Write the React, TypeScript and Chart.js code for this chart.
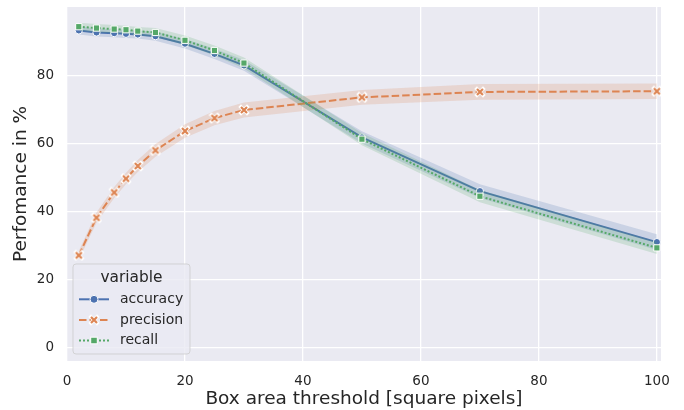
import React, { useEffect, useRef } from 'react';
import { Chart, registerables } from 'chart.js';

Chart.register(...registerables);

// ---- data ----
const xValues = [2, 5, 8, 10, 12, 15, 20, 25, 30, 50, 70, 100];
const accuracy = [93.3, 92.7, 92.5, 92.3, 92.1, 91.6, 89.4, 86.4, 83.0, 61.8, 46.0, 31.0];
const precision = [27.1, 38.2, 45.6, 49.7, 53.4, 58.0, 63.7, 67.5, 69.9, 73.6, 75.2, 75.4];
const recall = [94.4, 94.0, 93.7, 93.5, 93.1, 92.7, 90.4, 87.4, 83.7, 61.3, 44.5, 29.3];
// half widths of the confidence bands
const accuracyCI = [1.2, 1.2, 1.2, 1.2, 1.2, 1.3, 1.4, 1.5, 1.6, 1.8, 2.0, 2.3];
const precisionCI = [1.3, 1.5, 1.6, 1.7, 1.8, 1.9, 2.0, 2.1, 2.2, 2.2, 2.3, 2.3];
const recallCI = [1.2, 1.2, 1.2, 1.2, 1.2, 1.3, 1.4, 1.5, 1.6, 1.8, 1.8, 1.8];

const xTicks = [0, 20, 40, 60, 80, 100];
const yTicks = [0, 20, 40, 60, 80];
const seriesNames = ['accuracy', 'precision', 'recall'];
const legendTitle = 'variable';
const xTitle = 'Box area threshold [square pixels]';
const yTitle = 'Perfomance in %';

const FONT = "'DejaVu Sans', sans-serif";
const BLUE = '#4c72b0';
const ORANGE = '#dd8452';
const GREEN = '#55a868';
const TEXT = '#262626';
const BG = '#eaeaf2';

function rgba(hex: string, a: number) {
  const n = parseInt(hex.slice(1), 16);
  return `rgba(${(n >> 16) & 255},${(n >> 8) & 255},${n & 255},${a})`;
}

function makeXMarker(color: string) {
  const c = document.createElement('canvas');
  c.width = 12;
  c.height = 12;
  const g = c.getContext('2d')!;
  const m = 6;
  const draw = (r: number, lw: number, col: string, cap: CanvasLineCap) => {
    g.strokeStyle = col;
    g.lineWidth = lw;
    g.lineCap = cap;
    g.beginPath();
    g.moveTo(m - r, m - r);
    g.lineTo(m + r, m + r);
    g.moveTo(m - r, m + r);
    g.lineTo(m + r, m - r);
    g.stroke();
  };
  draw(3.0, 3.8, '#ffffff', 'square');
  draw(3.0, 2.2, color, 'butt');
  return c;
}

const bgPlugin = {
  id: 'plotBg',
  beforeDraw(chart: any) {
    const { ctx, chartArea } = chart;
    ctx.save();
    ctx.fillStyle = BG;
    ctx.fillRect(chartArea.left, chartArea.top, chartArea.right - chartArea.left, chartArea.bottom - chartArea.top);
    ctx.restore();
  },
};

function makeLegendPlugin(xMarker: HTMLCanvasElement) {
  return {
    id: 'customLegend',
    afterDraw(chart: any) {
      const { ctx, chartArea } = chart;
      const x0 = chartArea.left + 6;
      const w = 117;
      const h = 90;
      const y0 = chartArea.bottom - 7 - h;
      ctx.save();
      const r = 3;
      ctx.beginPath();
      ctx.moveTo(x0 + r, y0);
      ctx.lineTo(x0 + w - r, y0);
      ctx.quadraticCurveTo(x0 + w, y0, x0 + w, y0 + r);
      ctx.lineTo(x0 + w, y0 + h - r);
      ctx.quadraticCurveTo(x0 + w, y0 + h, x0 + w - r, y0 + h);
      ctx.lineTo(x0 + r, y0 + h);
      ctx.quadraticCurveTo(x0, y0 + h, x0, y0 + h - r);
      ctx.lineTo(x0, y0 + r);
      ctx.quadraticCurveTo(x0, y0, x0 + r, y0);
      ctx.closePath();
      ctx.fillStyle = 'rgba(234,234,242,0.8)';
      ctx.fill();
      ctx.strokeStyle = 'rgba(204,204,204,0.8)';
      ctx.lineWidth = 1;
      ctx.stroke();

      ctx.fillStyle = TEXT;
      ctx.textBaseline = 'middle';
      ctx.textAlign = 'center';
      ctx.font = `15.4px ${FONT}`;
      ctx.fillText(legendTitle, x0 + 58.5, y0 + 13.5);

      const colors = [BLUE, ORANGE, GREEN];
      const dashes = [[], [7.5, 3], [2, 2]];
      ctx.font = `14px ${FONT}`;
      ctx.textAlign = 'left';
      for (let i = 0; i < 3; i++) {
        const yy = y0 + 35.3 + i * 20.6;
        ctx.strokeStyle = colors[i];
        ctx.lineWidth = 2;
        ctx.setLineDash(dashes[i]);
        ctx.beginPath();
        ctx.moveTo(x0 + 6, yy);
        ctx.lineTo(x0 + 36, yy);
        ctx.stroke();
        ctx.setLineDash([]);
        const mx = x0 + 21;
        if (i === 0) {
          ctx.beginPath();
          ctx.arc(mx, yy, 4, 0, Math.PI * 2);
          ctx.fillStyle = colors[i];
          ctx.fill();
          ctx.strokeStyle = '#fff';
          ctx.lineWidth = 1;
          ctx.stroke();
        } else if (i === 1) {
          ctx.drawImage(xMarker, mx - 6, yy - 6);
        } else {
          ctx.fillStyle = colors[i];
          ctx.strokeStyle = '#fff';
          ctx.lineWidth = 1;
          ctx.fillRect(mx - 3.3, yy - 3.3, 6.6, 6.6);
          ctx.strokeRect(mx - 3.3, yy - 3.3, 6.6, 6.6);
        }
        ctx.fillStyle = TEXT;
        ctx.fillText(seriesNames[i], x0 + 47, yy);
      }
      ctx.restore();
    },
  };
}

export default function App() {
  const ref = useRef<HTMLCanvasElement | null>(null);

  useEffect(() => {
    if (!ref.current) return;
    const xMarker = makeXMarker(ORANGE);
    const pts = (ys: number[]) => xValues.map((x, i) => ({ x, y: ys[i] }));
    const lo = (ys: number[], ci: number[]) => pts(ys.map((v, i) => v - ci[i]));
    const hi = (ys: number[], ci: number[]) => pts(ys.map((v, i) => v + ci[i]));
    const band = (label: string, data: any[], color: string | false, fill: any, order: number) => ({
      label,
      data,
      borderWidth: 0,
      borderColor: 'transparent',
      pointRadius: 0,
      backgroundColor: color ? rgba(color, 0.2) : 'transparent',
      fill,
      order,
    });

    const chart = new Chart(ref.current, {
      type: 'line',
      data: {
        datasets: [
          {
            label: seriesNames[0],
            data: pts(accuracy),
            borderColor: BLUE,
            backgroundColor: BLUE,
            borderWidth: 2,
            pointStyle: 'circle',
            pointRadius: 3.6,
            pointBorderColor: '#fff',
            pointBorderWidth: 1,
            fill: false,
            order: 4,
          },
          {
            label: seriesNames[1],
            data: pts(precision),
            borderColor: ORANGE,
            backgroundColor: ORANGE,
            borderWidth: 2,
            borderDash: [7.5, 3],
            pointStyle: xMarker as any,
            pointRadius: 4,
            fill: false,
            order: 2,
          },
          {
            label: seriesNames[2],
            data: pts(recall),
            borderColor: GREEN,
            backgroundColor: GREEN,
            borderWidth: 2,
            borderDash: [2, 2],
            pointStyle: 'rect',
            pointRadius: 4.4,
            pointBorderColor: '#fff',
            pointBorderWidth: 1,
            fill: false,
            order: 0,
          },
          band('accLow', lo(accuracy, accuracyCI), false, false, 6),
          band('accHigh', hi(accuracy, accuracyCI), BLUE, 3, 5),
          band('precLow', lo(precision, precisionCI), false, false, 6),
          band('precHigh', hi(precision, precisionCI), ORANGE, 5, 3),
          band('recLow', lo(recall, recallCI), false, false, 6),
          band('recHigh', hi(recall, recallCI), GREEN, 7, 1),
        ] as any,
      },
      options: {
        responsive: false,
        animation: false,
        events: [],
        layout: { padding: { top: 7, right: 23, left: 0, bottom: 0 } },
        plugins: {
          legend: { display: false },
          tooltip: { enabled: false },
          filler: { propagate: false },
        },
        scales: {
          x: {
            type: 'linear',
            min: 0,
            max: 100.7,
            grid: { color: '#ffffff', lineWidth: 1.3, drawTicks: false },
            border: { display: false },
            afterBuildTicks: (s: any) => {
              s.ticks = xTicks.map((v) => ({ value: v }));
            },
            afterFit: (s: any) => {
              s.height = 49;
              s.paddingLeft = 0;
              s.paddingRight = 0;
            },
            ticks: {
              padding: 12,
              color: TEXT,
              font: { family: FONT, size: 13.5 },
              maxRotation: 0,
              callback: (v: any) => String(v),
            },
            title: {
              display: true,
              text: xTitle,
              color: TEXT,
              font: { family: FONT, size: 18.5 },
              padding: { top: 0, bottom: 0 },
            },
          },
          y: {
            type: 'linear',
            min: -4,
            max: 100.2,
            grid: { color: '#ffffff', lineWidth: 1.3, drawTicks: false },
            border: { display: false },
            afterBuildTicks: (s: any) => {
              s.ticks = yTicks.map((v) => ({ value: v }));
            },
            afterFit: (s: any) => {
              s.width = 67;
              s.paddingTop = 0;
              s.paddingBottom = 0;
            },
            ticks: {
              padding: 13,
              color: TEXT,
              font: { family: FONT, size: 13.5 },
              callback: (v: any) => String(v),
            },
            title: {
              display: true,
              text: yTitle,
              color: TEXT,
              font: { family: FONT, size: 18.5 },
              padding: { top: 10, bottom: 0 },
            },
          },
        },
      },
      plugins: [bgPlugin, makeLegendPlugin(xMarker)],
    } as any);

    return () => chart.destroy();
  }, []);

  return (
    <div style={{ position: 'fixed', left: 0, top: 0, width: 684, height: 410, background: '#fff' }}>
      <canvas ref={ref} width={684} height={410} style={{ display: 'block', width: 684, height: 410 }} />
    </div>
  );
}
